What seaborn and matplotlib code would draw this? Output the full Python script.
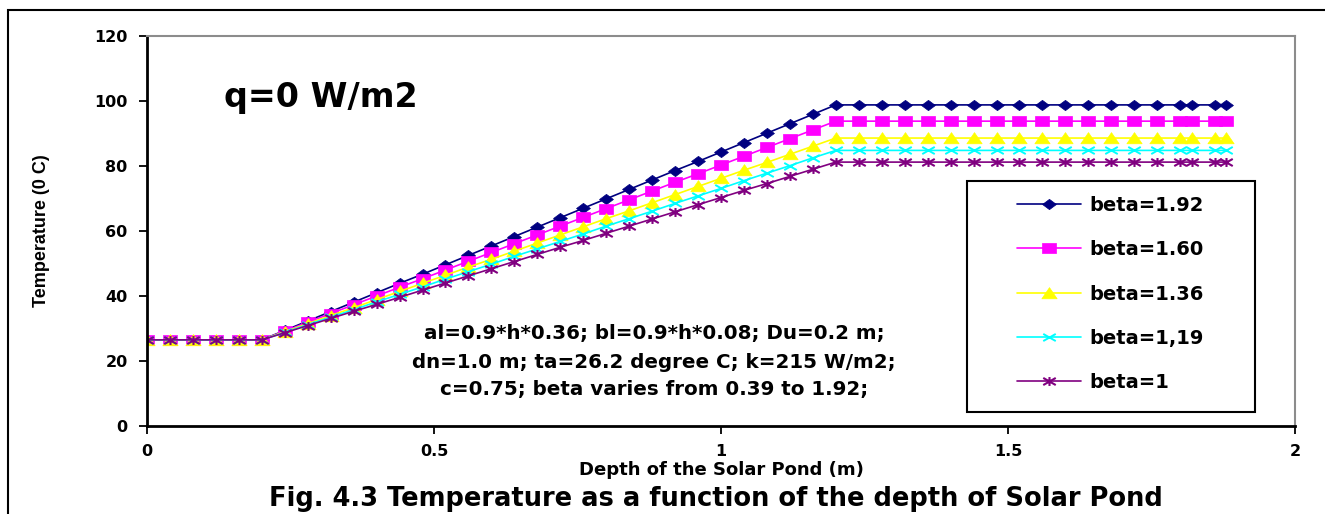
import numpy as np
import pandas as pd
import matplotlib
matplotlib.use("Agg")
import matplotlib.pyplot as plt
from matplotlib.path import Path
from matplotlib.patches import Rectangle
from matplotlib.lines import Line2D
import seaborn as sns

# ---------------- data ----------------
depth = [0.00, 0.04, 0.08, 0.12, 0.16, 0.20, 0.24, 0.28, 0.32, 0.36, 0.40, 0.44,
         0.48, 0.52, 0.56, 0.60, 0.64, 0.68, 0.72, 0.76, 0.80, 0.84, 0.88, 0.92,
         0.96, 1.00, 1.04, 1.08, 1.12, 1.16, 1.20, 1.24, 1.28, 1.32, 1.36, 1.40,
         1.44, 1.48, 1.52, 1.56, 1.60, 1.64, 1.68, 1.72, 1.76, 1.80, 1.82, 1.86, 1.88]

flat = [26.5, 26.5, 26.5, 26.5, 26.5, 26.5]

beta_192 = flat + [29.4, 32.3, 35.2, 38.1, 41.0, 43.9, 46.7, 49.6, 52.5, 55.4, 58.3, 61.2,
                   64.1, 67.0, 69.9, 72.8, 75.7, 78.6, 81.4, 84.3, 87.2, 90.1, 93.0, 95.9] + [98.8] * 19
beta_160 = flat + [29.2, 31.9, 34.6, 37.3, 40.0, 42.7, 45.3, 48.0, 50.7, 53.4, 56.1, 58.8,
                   61.5, 64.2, 66.9, 69.6, 72.3, 75.0, 77.6, 80.3, 83.0, 85.7, 88.4, 91.1] + [93.8] * 19
beta_136 = flat + [29.0, 31.5, 34.0, 36.4, 38.9, 41.4, 43.9, 46.4, 48.9, 51.3, 53.8, 56.3,
                   58.8, 61.3, 63.8, 66.2, 68.7, 71.2, 73.7, 76.2, 78.7, 81.1, 83.6, 86.1] + [88.6] * 19
beta_119 = flat + [28.8, 31.2, 33.5, 35.8, 38.2, 40.5, 42.8, 45.2, 47.5, 49.8, 52.2, 54.5,
                   56.8, 59.1, 61.5, 63.8, 66.1, 68.5, 70.8, 73.1, 75.5, 77.8, 80.1, 82.5] + [84.8] * 19
beta_100 = flat + [28.7, 30.9, 33.1, 35.3, 37.4, 39.6, 41.8, 44.0, 46.2, 48.4, 50.6, 52.8,
                   55.0, 57.1, 59.3, 61.5, 63.7, 65.9, 68.1, 70.3, 72.5, 74.6, 76.8, 79.0] + [81.2] * 19

series_labels = ["beta=1.92", "beta=1.60", "beta=1.36", "beta=1,19", "beta=1"]
series_values = [beta_192, beta_160, beta_136, beta_119, beta_100]

x_ticks = [0, 0.5, 1, 1.5, 2]
x_tick_labels = ["0", "0.5", "1", "1.5", "2"]
y_ticks = [0, 20, 40, 60, 80, 100, 120]

# ---------------- styles ----------------
colors = ["#000080", "#FF00FF", "#FFFF00", "#00FFFF", "#800080"]

diamond = Path([(-1.35, 0), (0, 1), (1.35, 0), (0, -1), (-1.35, 0)],
               [Path.MOVETO, Path.LINETO, Path.LINETO, Path.LINETO, Path.CLOSEPOLY])
square = Path([(-1.3, -1), (1.3, -1), (1.3, 1), (-1.3, 1), (-1.3, -1)],
              [Path.MOVETO, Path.LINETO, Path.LINETO, Path.LINETO, Path.CLOSEPOLY])
triangle = Path([(-1.3, -0.9), (1.3, -0.9), (0, 1.0), (-1.3, -0.9)],
                [Path.MOVETO, Path.LINETO, Path.LINETO, Path.CLOSEPOLY])
xmark = Path([(-1.4, -0.8), (1.4, 0.8), (-1.4, 0.8), (1.4, -0.8)],
             [Path.MOVETO, Path.LINETO, Path.MOVETO, Path.LINETO])
star = Path([(-1.4, -0.8), (1.4, 0.8), (-1.4, 0.8), (1.4, -0.8), (0, -1), (0, 1)],
            [Path.MOVETO, Path.LINETO, Path.MOVETO, Path.LINETO, Path.MOVETO, Path.LINETO])
markers = [diamond, square, triangle, xmark, star]
msizes = [10, 10, 11, 9, 9]
mews = [0.5, 0.5, 0.5, 1.4, 1.5]

sns.set_style("white")
plt.rcParams["font.family"] = ["DejaVu Sans"]
plt.rcParams["text.color"] = "black"
plt.rcParams["axes.labelcolor"] = "black"
plt.rcParams["xtick.color"] = "black"
plt.rcParams["ytick.color"] = "black"

fig = plt.figure(figsize=(13.25, 5.14), dpi=100)
ax = fig.add_axes([147 / 1325, 1 - 426 / 514, (1295 - 147) / 1325, (426 - 36) / 514])

for lab, vals, c, m, ms, mw in zip(series_labels, series_values, colors, markers, msizes, mews):
    df = pd.DataFrame({"depth": depth, "temp": vals})
    sns.lineplot(data=df, x="depth", y="temp", ax=ax, color=c, marker=m,
                 markersize=ms, markeredgecolor=c, markerfacecolor=c,
                 markeredgewidth=mw, linewidth=1.2, sort=False, legend=False)

ax.set_xlim(0, 2)
ax.set_ylim(0, 120)
ax.set_xticks(x_ticks)
ax.set_xticklabels(x_tick_labels)
ax.set_yticks(y_ticks)
ax.tick_params(axis="both", direction="out", length=6, width=1.3, color="black",
               labelcolor="black", labelsize=11.5, pad=8, bottom=True, left=True)
ax.tick_params(axis="x", pad=7)
for t in ax.get_xticklabels() + ax.get_yticklabels():
    t.set_fontweight("bold")

for s in ["left", "bottom"]:
    ax.spines[s].set_color("black")
    ax.spines[s].set_linewidth(2)
for s in ["top", "right"]:
    ax.spines[s].set_color("#8c8c8c")
    ax.spines[s].set_linewidth(1.5)
ax.grid(False)

ax.set_xlabel("Depth of the Solar Pond (m)", fontsize=13, fontweight="bold", color="black")
ax.xaxis.set_label_coords(0.5, -0.09)
ax.set_ylabel("Temperature (0 C)", fontsize=13, fontweight="bold", color="black",
              family=["Liberation Sans", "DejaVu Sans"])
ax.yaxis.set_label_coords((50 - 147) / 1148, 0.5)

# annotations
ax.text((321 - 147) / 1148, (426 - 97) / 390, "q=0 W/m2", transform=ax.transAxes,
        fontsize=24, fontweight="bold", ha="center", va="center", color="black")
ax.text((654 - 147) / 1148, (426 - 362) / 390,
        "al=0.9*h*0.36; bl=0.9*h*0.08; Du=0.2 m;\ndn=1.0 m; ta=26.2 degree C; k=215 W/m2;\nc=0.75; beta varies from 0.39 to 1.92;",
        transform=ax.transAxes, fontsize=14.3, fontweight="bold", ha="center", va="center",
        linespacing=1.6, color="black")

# legend
handles = [Line2D([0], [0], color=c, marker=m, markersize=ms, markeredgecolor=c,
                  markerfacecolor=c, markeredgewidth=mw, linewidth=1.2)
           for c, m, ms, mw in zip(colors, markers, msizes, mews)]
leg = ax.legend(handles, series_labels, loc="upper left",
                bbox_to_anchor=((1017 - 147) / 1148, (426 - 196) / 390),
                frameon=False, borderpad=0, borderaxespad=0, handlelength=3.3,
                handletextpad=0.4, labelspacing=1.3, prop={"size": 14, "weight": "bold"})
for t in leg.get_texts():
    t.set_color("black")
ax.add_patch(Rectangle(((967 - 147) / 1148, (426 - 412) / 390), (1255 - 967) / 1148,
                       (412 - 181) / 390, transform=ax.transAxes, fill=False,
                       edgecolor="black", linewidth=1.5, zorder=5, clip_on=False))

# caption
fig.text(716 / 1325, 1 - 499 / 514, "Fig. 4.3 Temperature as a function of the depth of Solar Pond",
         fontsize=18.5, fontweight="bold", ha="center", va="center", color="black")

# outer border (left and top visible)
fig.patches.append(Rectangle((8 / 1325, -0.2), 1.5, 1.2 - 10 / 514, transform=fig.transFigure,
                             fill=False, edgecolor="black", linewidth=1.5))

fig.savefig("out.png", dpi=100)
